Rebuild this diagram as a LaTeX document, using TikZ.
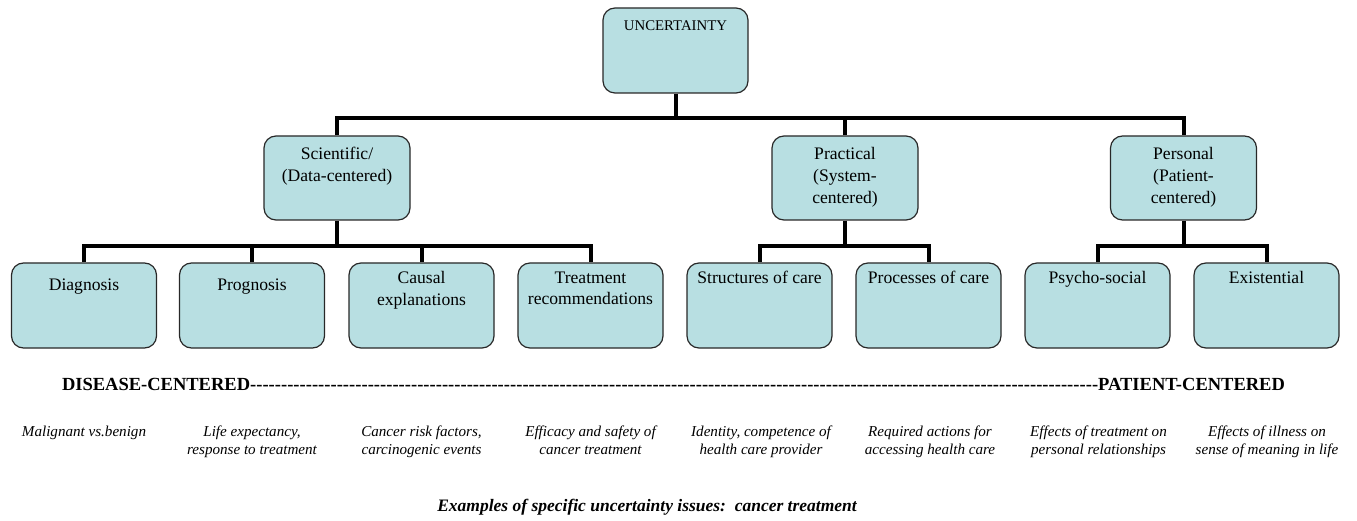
\documentclass[tikz,border=0pt]{standalone}
\usepackage{fontspec}
\setmainfont{Liberation Serif}
\usetikzlibrary{calc}
\definecolor{boxfill}{RGB}{184,223,226}
\definecolor{boxline}{RGB}{40,40,40}
\tikzset{
  box/.style={draw=boxline, line width=1.2pt, fill=boxfill, rounded corners=12pt,
    minimum width=145pt, minimum height=85pt, inner sep=0pt},
  lbl/.style={anchor=north, inner sep=0pt, align=center, font=\fontsize{17.6}{21.8}\selectfont},
  conn/.style={line width=4pt, line join=miter},
  ex/.style={anchor=north, inner sep=0pt, align=center, font=\fontsize{15.1}{18}\itshape\selectfont},
}
\begin{document}
\begin{tikzpicture}[x=1pt,y=-1pt]
\useasboundingbox (0,0) rectangle (1357,521);
% top
\node[box] (unc) at (675.5,50.5) {};
\node[lbl, font=\fontsize{14.8}{18}\selectfont] (unct) at ($(unc.north)+(0,13)$) {UNCERTAINTY};
% level 2
\node[box, minimum width=146pt, minimum height=84pt] (sci) at (337,178) {};
\node[box, minimum width=146pt, minimum height=84pt] (prac) at (845,178) {};
\node[box, minimum width=146pt, minimum height=84pt] (pers) at (1183.5,178) {};
\node[lbl] (scit) at ($(sci.north)+(0,12)$) {Scientific/\\(Data-centered)};
\node[lbl] (pract) at ($(prac.north)+(0,12)$) {Practical\\(System-\\centered)};
\node[lbl] (perst) at ($(pers.north)+(0,12)$) {Personal\\(Patient-\\centered)};
% level 3
\foreach \n/\x in {diag/84,prog/252,caus/421.5,treat/590.5,struc/759.5,proc/928.5,psy/1097.5,exis/1266.5}
  \node[box] (\n) at (\x,305.5) {};
\node[lbl] (diagt) at ($(diag.north)+(0,16)$) {Diagnosis};
\node[lbl] (progt) at ($(prog.north)+(0,16)$) {Prognosis};
\node[lbl] (caust) at ($(caus.north)+(0,9)$) {Causal\\explanations};
\node[lbl] (treatt) at ($(treat.north)+(0,9)$) {Treatment\\recommendations};
\node[lbl] (struct) at ($(struc.north)+(0,9)$) {Structures of care};
\node[lbl] (proct) at ($(proc.north)+(0,9)$) {Processes of care};
\node[lbl] (psyt) at ($(psy.north)+(0,9)$) {Psycho-social};
\node[lbl] (exist) at ($(exis.north)+(0,9)$) {Existential};
% connectors
\coordinate (bus1) at (0,118);
\coordinate (bus2) at (0,246);
\draw[conn] (unc.south) -- (unc.south |- bus1);
\draw[conn] (sci.north) -- (sci.north |- bus1) -- (pers.north |- bus1) -- (pers.north);
\draw[conn] (prac.north) -- (prac.north |- bus1);
\draw[conn] (diag.north) -- (diag.north |- bus2) -- (treat.north |- bus2) -- (treat.north);
\draw[conn] (prog.north) -- (prog.north |- bus2);
\draw[conn] (caus.north) -- (caus.north |- bus2);
\draw[conn] (sci.south) -- (sci.south |- bus2);
\draw[conn] (struc.north) -- (struc.north |- bus2) -- (proc.north |- bus2) -- (proc.north);
\draw[conn] (prac.south) -- (prac.south |- bus2);
\draw[conn] (psy.north) -- (psy.north |- bus2) -- (exis.north |- bus2) -- (exis.north);
\draw[conn] (pers.south) -- (pers.south |- bus2);
% spectrum
\node[inner sep=0pt, font=\fontsize{18.5}{22}\bfseries\selectfont] (spec) at (673.5,384)
  {\makebox[1223pt]{DISEASE-CENTERED\xleaders\hbox{-}\hfill PATIENT-CENTERED}};
% examples
\node[ex] (e1) at (84,426) {Malignant vs.benign};
\node[ex] (e2) at (252,426) {Life expectancy,\\response to treatment};
\node[ex] (e3) at (421.5,426) {Cancer risk factors,\\carcinogenic events};
\node[ex] (e4) at (590.5,426) {Efficacy and safety of\\cancer treatment};
\node[ex] (e5) at (761,426) {Identity, competence of\\health care provider};
\node[ex] (e6) at (930,426) {Required actions for\\accessing health care};
\node[ex] (e7) at (1098.5,426) {Effects of treatment on\\personal relationships};
\node[ex] (e8) at (1267,426) {Effects of illness on\\sense of meaning in life};
% caption
\node[inner sep=0pt, font=\fontsize{17.5}{20}\bfseries\itshape\selectfont] (cap) at (647,507)
  {Examples of specific uncertainty issues:\ \ cancer treatment};
\end{tikzpicture}
\end{document}
